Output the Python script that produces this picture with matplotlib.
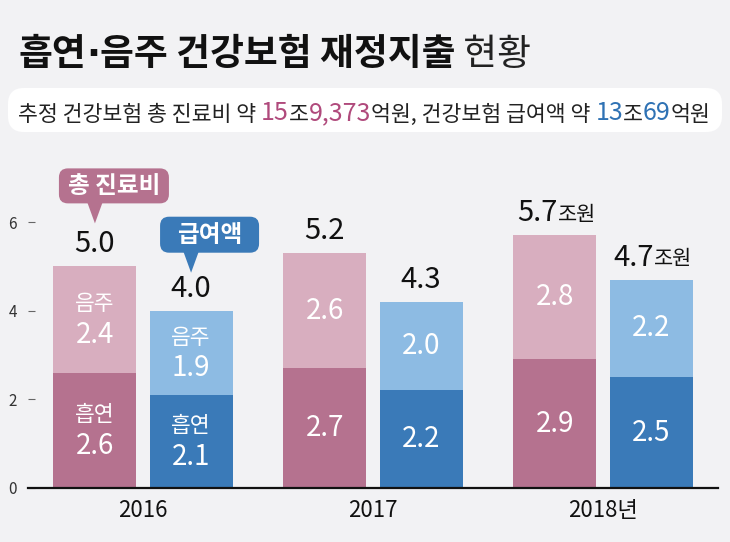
import matplotlib.pyplot as plt
import numpy as np
from matplotlib.patches import FancyBboxPatch, Polygon
from matplotlib.transforms import IdentityTransform

plt.rcParams['font.family'] = ['Noto Sans CJK KR', 'DejaVu Sans']

years = ['2016', '2017', '2018년']
# 총 진료비 (pink) / 급여액 (blue), 조원
care_smoke = [2.6, 2.7, 2.9]
care_drink = [2.4, 2.6, 2.8]
care_total = ['5.0', '5.2', '5.7']
pay_smoke = [2.1, 2.2, 2.5]
pay_drink = [1.9, 2.0, 2.2]
pay_total = ['4.0', '4.3', '4.7']

BG = '#f2f2f4'
PINK_D = '#b5728f'
PINK_L = '#d8aebf'
BLUE_D = '#3a7ab8'
BLUE_L = '#8dbbe3'
PINK_TXT = '#b04a7c'
BLUE_TXT = '#2f72b4'

W, H = 730, 542
fig = plt.figure(figsize=(W / 100, H / 100), dpi=100, facecolor=BG)
ax = fig.add_axes([28 / W, (H - 488) / H, 690 / W, 328 / H])
ax.set_facecolor(BG)

x = np.arange(len(years))
off = 0.209
bw = 0.361

ax.bar(x - off, care_smoke, bw, color=PINK_D, zorder=2)
ax.bar(x - off, care_drink, bw, bottom=care_smoke, color=PINK_L, zorder=2)
ax.bar(x + off, pay_smoke, bw, color=BLUE_D, zorder=2)
ax.bar(x + off, pay_drink, bw, bottom=pay_smoke, color=BLUE_L, zorder=2)

ax.set_xlim(-0.5, 2.5)
ax.set_ylim(0, 7.4)
ax.set_yticks([0, 2, 4, 6])
ax.tick_params(axis='y', direction='in', length=5, width=0.8, color='#666',
               pad=8, labelsize=11, labelcolor='#333')
ax.set_xticks(x)
ax.set_xticklabels(years)
ax.tick_params(axis='x', length=0, pad=8, labelsize=16, labelcolor='#111')
for s in ['top', 'right', 'left']:
    ax.spines[s].set_visible(False)
ax.spines['bottom'].set_linewidth(1.6)
ax.spines['bottom'].set_color('#111')
ax.spines['bottom'].set_zorder(3)


def seg_label(xc, y0, h, val, name=None):
    yc = y0 + h / 2
    if name is None:
        ax.text(xc, yc, f'{val:.1f}', ha='center', va='center',
                color='white', fontsize=20, zorder=4)
    else:
        ax.annotate(name, (xc, yc), xytext=(0, 11), textcoords='offset points',
                    ha='center', va='center', color='white', fontsize=15.5, zorder=4)
        ax.annotate(f'{val:.1f}', (xc, yc), xytext=(0, -11), textcoords='offset points',
                    ha='center', va='center', color='white', fontsize=20, zorder=4)


for i in range(len(years)):
    first = i == 0
    seg_label(x[i] - off, 0, care_smoke[i], care_smoke[i], '흡연' if first else None)
    seg_label(x[i] - off, care_smoke[i], care_drink[i], care_drink[i], '음주' if first else None)
    seg_label(x[i] + off, 0, pay_smoke[i], pay_smoke[i], '흡연' if first else None)
    seg_label(x[i] + off, pay_smoke[i], pay_drink[i], pay_drink[i], '음주' if first else None)

    for xc, top, lab in [(x[i] - off, care_smoke[i] + care_drink[i], care_total[i]),
                         (x[i] + off, pay_smoke[i] + pay_drink[i], pay_total[i])]:
        last = i == len(years) - 1
        t = ax.annotate(lab, (xc, top), xytext=(2 if last else 0, 5),
                        textcoords='offset points',
                        ha='right' if last else 'center', va='bottom',
                        fontsize=21, color='#111')
        if last:
            ax.annotate('조원', xy=(1, 0), xycoords=t, xytext=(0, 2),
                        textcoords='offset points', ha='left', va='bottom',
                        fontsize=15, color='#111')


def chain(first, pieces):
    prev = first
    for txt, col, fs, kw in pieces:
        prev = ax.annotate(txt, xy=(1, 0), xycoords=prev, ha='left', va='bottom',
                           color=col, fontsize=fs, annotation_clip=False, **kw)
    return prev


# title
t = fig.text(18 / W, 1 - 55 / H, '흡연', fontsize=26.5, fontweight='bold',
             color='#111', va='center', ha='left')
chain(t, [('·', '#111', 26.5, dict(fontweight='bold', family='DejaVu Sans')),
          ('음주 건강보험 재정지출', '#111', 26.5, dict(fontweight='bold')),
          (' 현황', '#222', 26.5, {})])

# subtitle box
fig.patches.append(FancyBboxPatch((8, H - 132), 714, 44,
                                  boxstyle='round,pad=0,rounding_size=16',
                                  fc='white', ec='none', transform=IdentityTransform(),
                                  figure=fig, zorder=-1))
FS, FN = 15.6, 18
sub = [('15', PINK_TXT, FN), ('조', '#222', FS), ('9,373', PINK_TXT, FN),
       ('억원, 건강보험 급여액 약 ', '#222', FS),
       ('13', BLUE_TXT, FN), ('조', '#222', FS), ('69', BLUE_TXT, FN),
       ('억원', '#222', FS)]
first = fig.text(18 / W, 1 - 121 / H, '추정 건강보험 총 진료비 약 ', color='#222',
                 fontsize=FS, ha='left', va='baseline')
chain(first, [(a, b, c, {}) for a, b, c in sub])


# callouts
def callout(xc, top, label, color, up, bx0, bx1, bh):
    px, py = ax.transData.transform((xc, top))
    tip_y = py + up
    base_y = tip_y + 20
    fig.patches.append(Polygon([(px - 8, base_y + 2), (px + 8, base_y + 2), (px, tip_y)],
                               closed=True, fc=color, ec='none',
                               transform=IdentityTransform(), figure=fig))
    fig.patches.append(FancyBboxPatch((px + bx0, base_y), bx1 - bx0, bh,
                                      boxstyle='round,pad=0,rounding_size=9',
                                      fc=color, ec='none',
                                      transform=IdentityTransform(), figure=fig))
    cx = px + (bx0 + bx1) / 2
    cy = base_y + bh / 2
    fig.text(cx / W, cy / H, label, ha='center', va='center', color='white',
             fontsize=17, fontweight='bold')


callout(x[0] - off, care_smoke[0] + care_drink[0], '총 진료비', PINK_D, 43, -36, 74, 35)
callout(x[0] + off, pay_smoke[0] + pay_drink[0], '급여액', BLUE_D, 38, -31, 68, 36)

fig.savefig('out.png', dpi=100, facecolor=BG)
